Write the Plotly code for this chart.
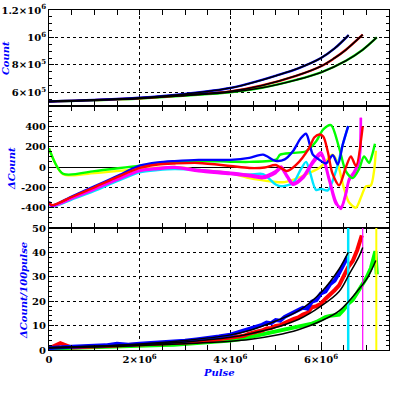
import plotly.graph_objects as go
from plotly.subplots import make_subplots

# ---------------- Panel 1: Count vs Pulse ----------------
cnt_blue_x = [0, 1e6, 2e6, 3e6, 4e6, 4.7e6, 5e6, 5.5e6, 6e6, 6.3e6, 6.61e6]
cnt_blue_y = [5.33e5, 5.44e5, 5.6e5, 5.88e5, 6.31e5, 6.9e5, 7.2e5, 7.75e5, 8.5e5, 9.2e5, 1.017e6]
cnt_red_x = [0, 1e6, 2e6, 3e6, 4e6, 4.7e6, 5.45e6, 6e6, 6.3e6, 6.55e6, 6.92e6]
cnt_red_y = [5.33e5, 5.43e5, 5.57e5, 5.8e5, 6.07e5, 6.5e5, 7.2e5, 7.9e5, 8.5e5, 9.1e5, 1.02e6]
cnt_green_x = [0, 1e6, 2e6, 3e6, 4e6, 4.7e6, 5.45e6, 6e6, 6.55e6, 6.92e6, 7.23e6]
cnt_green_y = [5.33e5, 5.42e5, 5.55e5, 5.76e5, 6.0e5, 6.33e5, 6.9e5, 7.45e5, 8.3e5, 9.1e5, 1.0e6]

# ---------------- Panel 2: dCount vs Pulse ----------------
d_blue_x = [0, 0.06e6, 0.5e6, 1e6, 1.5e6, 2e6, 2.4e6, 2.77e6, 3.3e6, 4e6, 4.42e6, 4.72e6, 5.0e6, 5.2e6,
            5.38e6, 5.55e6, 5.67e6, 5.82e6, 5.96e6, 6.11e6, 6.26e6, 6.37e6, 6.48e6, 6.6e6]
d_blue_y = [-340, -378, -290, -190, -90, 13, 45, 58, 70, 70, 90, 122, 60, 75,
            155, 280, 327, 122, 72, 35, 115, 25, 221, 402]
d_red_x = [0, 0.06e6, 0.5e6, 1e6, 1.5e6, 2e6, 2.4e6, 2.77e6, 3.3e6, 4e6, 4.42e6, 4.76e6, 5.0e6, 5.25e6,
           5.45e6, 5.74e6, 5.85e6, 5.96e6, 6.05e6, 6.15e6, 6.25e6, 6.4e6, 6.55e6, 6.66e6, 6.77e6, 6.92e6]
d_red_y = [-345, -375, -295, -200, -100, -8, 25, 35, 40, 10, -10, -5, 20, -40,
           20, 188, 290, 320, 300, 150, -60, -180, 0, 105, 10, 400]
d_mag_x = [0, 0.06e6, 0.5e6, 1e6, 1.5e6, 2e6, 2.4e6, 2.77e6, 3.3e6, 4e6, 4.42e6, 4.72e6, 5.0e6, 5.12e6,
           5.25e6, 5.38e6, 5.6e6, 5.82e6, 6.0e6, 6.18e6, 6.33e6, 6.44e6, 6.55e6, 6.62e6, 6.73e6, 6.84e6, 6.88e6]
d_mag_y = [-350, -382, -305, -215, -120, -33, -10, 0, -30, -55, -76, -93, -40, 5,
           -80, -158, -93, 60, 145, -109, -340, -413, -270, -135, -66, 50, 485]
d_mag2_y = [-355, -387, -312, -222, -128, -40, -20, -8, -42, -70, -92, -110, -60, -15,
            -100, -175, -112, 35, 118, -135, -365, -395, -250, -115, -45, 70, 485]
d_cyan_x = [0, 0.06e6, 0.5e6, 1e6, 1.5e6, 2e6, 2.4e6, 2.77e6, 3.3e6, 4e6, 4.42e6, 4.72e6, 5.01e6, 5.12e6,
            5.38e6, 5.55e6, 5.67e6, 5.75e6, 5.89e6, 6.0e6, 6.15e6, 6.33e6, 6.48e6, 6.6e6]
d_cyan_y = [-360, -392, -320, -235, -140, -53, -30, -20, -30, -60, -76, -70, -175, -190,
            -158, -27, 50, -40, -225, -215, -230, -37, 221, 402]
d_green_x = [0, 0.31e6, 1e6, 2e6, 2.77e6, 3.32e6, 4e6, 4.42e6, 5.01e6, 5.1e6, 5.38e6, 5.67e6, 5.89e6,
             6.05e6, 6.22e6, 6.4e6, 6.55e6, 6.7e6, 6.84e6, 6.95e6, 7.06e6, 7.13e6, 7.19e6]
d_green_y = [184, -66, -40, 13, 45, 59, 52, 50, 72, 122, 139, 155, 250,
             370, 412, 188, -43, -109, -20, 105, 40, 122, 228]
d_yellow_x = [0, 0.31e6, 1e6, 2e6, 2.77e6, 3.32e6, 4e6, 4.42e6, 4.93e6, 5.15e6, 5.38e6, 5.74e6, 5.96e6,
              6.1e6, 6.25e6, 6.35e6, 6.5e6, 6.62e6, 6.77e6, 6.88e6, 6.99e6, 7.1e6, 7.17e6, 7.21e6]
d_yellow_y = [184, -70, -60, -20, 0, -30, -60, -109, -143, -150, -126, -59, -10,
              50, 120, 60, -200, -350, -400, -300, -190, -180, -40, 160]

# ---------------- Panel 3: dCount/100pulse vs Pulse ----------------
r_x_early = [0, 0.25e6, 0.5e6, 0.75e6, 1e6, 1.25e6, 1.5e6, 1.75e6, 2e6, 2.25e6, 2.5e6, 2.75e6,
             3e6, 3.25e6, 3.5e6, 3.75e6, 4e6]
r_blue_x = r_x_early + [4.2e6, 4.3e6, 4.4e6, 4.5e6, 4.6e6, 4.7e6, 4.8e6, 4.9e6, 5.0e6, 5.1e6, 5.2e6,
                        5.3e6, 5.4e6, 5.5e6, 5.6e6, 5.7e6, 5.8e6, 5.9e6, 6.0e6, 6.1e6, 6.2e6, 6.3e6,
                        6.4e6, 6.5e6, 6.58e6]
r_blue_y = [0.8, 1.2, 1.3, 1.5, 1.6, 1.9, 2.6, 2.2, 2.6, 2.8, 3.1, 3.4, 3.8, 4.3, 4.8, 5.5, 6.3,
            7.4, 7.9, 8.6, 9.0, 9.9, 10.3, 11.2, 11.0, 12.3, 12.0, 13.6, 14.4, 15.2, 16.4, 17.3,
            17.0, 19.8, 20.5, 23.2, 24.0, 27.0, 28.4, 31.5, 34.8, 38.0, 43.5]
r_red_x = r_x_early + [4.2e6, 4.3e6, 4.4e6, 4.5e6, 4.6e6, 4.7e6, 4.8e6, 4.9e6, 5.0e6, 5.1e6, 5.2e6,
                       5.3e6, 5.4e6, 5.5e6, 5.6e6, 5.7e6, 5.8e6, 5.9e6, 6.0e6, 6.1e6, 6.2e6, 6.3e6,
                       6.4e6, 6.5e6, 6.6e6, 6.7e6, 6.8e6, 6.9e6]
r_red_y = [0.6, 2.8, 1.0, 1.2, 1.3, 1.5, 1.6, 1.8, 2.0, 2.2, 2.4, 2.7, 3.0, 3.3, 3.8, 4.3, 4.9,
           5.6, 5.8, 6.6, 6.9, 7.6, 8.0, 8.8, 9.0, 9.9, 10.2, 11.1, 11.8, 12.8, 13.3, 14.5, 15.2,
           17.5, 18.0, 19.0, 21.0, 22.5, 24.5, 26.5, 30.5, 34.0, 36.5, 41.0, 47.0]
r_green_x = r_x_early + [4.2e6, 4.3e6, 4.4e6, 4.5e6, 4.6e6, 4.7e6, 4.8e6, 4.9e6, 5.0e6, 5.1e6, 5.2e6,
                         5.3e6, 5.4e6, 5.5e6, 5.6e6, 5.7e6, 5.8e6, 5.9e6, 6.0e6, 6.1e6, 6.2e6, 6.3e6,
                         6.4e6, 6.5e6, 6.6e6, 6.7e6, 6.8e6, 6.9e6, 7.0e6, 7.1e6, 7.15e6, 7.2e6, 7.23e6]
r_green_y = [0.3, 0.8, 0.9, 1.0, 1.1, 1.2, 1.3, 1.4, 1.7, 1.8, 2.0, 2.2, 2.5, 2.8, 3.1, 3.5, 3.9,
             4.4, 4.8, 5.3, 5.5, 6.0, 6.2, 6.8, 7.0, 7.3, 7.8, 8.1, 8.6, 9.0, 9.3, 9.8, 10.3,
             10.8, 11.5, 12.5, 13.5, 14.0, 14.2, 14.5, 16.5, 19.0, 20.5, 23.5, 26.0, 29.5, 33.5,
             37.0, 40.5, 31.0]
fit_blue_x = [0, 1e6, 2e6, 3e6, 4e6, 4.42e6, 5e6, 5.5e6, 6e6, 6.4e6, 6.6e6]
fit_blue_y = [1.0, 1.6, 2.5, 3.9, 6.2, 8.0, 11.9, 16.0, 23.6, 33.2, 40.0]
fit_red_x = [0, 1e6, 2e6, 3e6, 4e6, 4.42e6, 5e6, 5.5e6, 6e6, 6.4e6, 6.62e6, 6.84e6, 6.92e6]
fit_red_y = [0.9, 1.4, 2.2, 3.3, 5.2, 6.6, 9.2, 12.5, 18.0, 24.0, 31.0, 38.4, 42.0]
fit_green_x = [0, 1e6, 2e6, 3e6, 4e6, 4.42e6, 5e6, 5.5e6, 6e6, 6.4e6, 6.84e6, 7.03e6, 7.21e6]
fit_green_y = [0.8, 1.2, 1.8, 2.6, 3.6, 4.3, 6.0, 8.3, 11.9, 16.0, 25.0, 29.8, 36.7]

end_pulse = [6.6e6, 6.92e6, 7.22e6]
end_colors = ["#00e5ff", "#ff00ff", "#ffff00"]
end_widths = [2.5, 1.2, 2.0]

# ---------------- axis labels ----------------
x_tickvals = [0, 2e6, 4e6, 6e6]
x_ticktext = ["0", "2×10<sup>6</sup>", "4×10<sup>6</sup>", "6×10<sup>6</sup>"]
y1_tickvals = [6e5, 8e5, 1e6, 1.2e6]
y1_ticktext = ["6×10<sup>5</sup>", "8×10<sup>5</sup>", "10<sup>6</sup>", "1.2×10<sup>6</sup>"]
y2_tickvals = [-400, -200, 0, 200, 400]
y2_ticktext = ["-400", "-200", "0", "200", "400"]
y3_tickvals = [0, 10, 20, 30, 40, 50]
y3_ticktext = ["0", "10", "20", "30", "40", "50"]

BLUE = "#0000ff"
CYAN = "#00e5ff"
RED = "#ff0000"
MAG = "#ff00ff"
GREEN = "#00ff00"
YEL = "#ffff00"

fig = make_subplots(rows=3, cols=1, shared_xaxes=True, vertical_spacing=0,
                    row_heights=[96, 122, 122])

# panel 1
for xs, ys, c in [(cnt_green_x, cnt_green_y, GREEN), (cnt_red_x, cnt_red_y, RED),
                  (cnt_blue_x, cnt_blue_y, BLUE)]:
    fig.add_trace(go.Scatter(x=xs, y=ys, mode="lines", line=dict(color=c, width=2.4, shape="spline"),
                             showlegend=False), row=1, col=1)
for xs, ys in [(cnt_green_x, cnt_green_y), (cnt_red_x, cnt_red_y), (cnt_blue_x, cnt_blue_y)]:
    fig.add_trace(go.Scatter(x=xs, y=ys, mode="lines", line=dict(color="black", width=1.6, shape="spline"),
                             showlegend=False), row=1, col=1)

# panel 2
for xs, ys, c in [(d_yellow_x, d_yellow_y, YEL), (d_cyan_x, d_cyan_y, CYAN),
                  (d_mag_x, d_mag_y, MAG), (d_mag_x, d_mag2_y, MAG),
                  (d_green_x, d_green_y, GREEN), (d_blue_x, d_blue_y, BLUE),
                  (d_red_x, d_red_y, RED)]:
    fig.add_trace(go.Scatter(x=xs, y=ys, mode="lines",
                             line=dict(color=c, width=2.4, shape="spline", smoothing=0.8),
                             showlegend=False), row=2, col=1)

# panel 3
for xs, ys, c in [(r_green_x, r_green_y, GREEN), (r_red_x, r_red_y, RED), (r_blue_x, r_blue_y, BLUE)]:
    fig.add_trace(go.Scatter(x=xs, y=ys, mode="lines", line=dict(color=c, width=4),
                             showlegend=False), row=3, col=1)
for p, c, w in zip(end_pulse, end_colors, end_widths):
    fig.add_trace(go.Scatter(x=[p, p], y=[0, 50], mode="lines", line=dict(color=c, width=w),
                             showlegend=False), row=3, col=1)
for xs, ys in [(fit_green_x, fit_green_y), (fit_red_x, fit_red_y), (fit_blue_x, fit_blue_y)]:
    fig.add_trace(go.Scatter(x=xs, y=ys, mode="lines", line=dict(color="black", width=1.5, shape="spline"),
                             showlegend=False), row=3, col=1)

tickfont = dict(family="DejaVu Serif", size=10, color="black", weight="bold")
common = dict(showline=True, linecolor="black", linewidth=1, mirror="ticks",
              ticks="inside", ticklen=5, tickcolor="black", tickwidth=1,
              showgrid=True, gridcolor="black", griddash="dot", gridwidth=1,
              tickfont=tickfont, zeroline=False, automargin=False)

for r in (1, 2, 3):
    fig.update_xaxes(range=[0, 7.5e6], tickmode="array", tickvals=x_tickvals, ticktext=x_ticktext,
                     showticklabels=(r == 3),
                     minor=dict(tickmode="linear", tick0=0, dtick=5e5, ticks="inside", ticklen=5,
                                tickcolor="black", showgrid=False),
                     **common, row=r, col=1)

fig.update_yaxes(range=[5e5, 1.2e6], tickmode="array", tickvals=y1_tickvals, ticktext=y1_ticktext,
                 minor=dict(tickmode="linear", tick0=0, dtick=5e4, ticks="inside", ticklen=3,
                            tickcolor="black", showgrid=False),
                 **common, row=1, col=1)
c2 = dict(common)
c2["zeroline"] = True
fig.update_yaxes(range=[-600, 600], tickmode="array", tickvals=y2_tickvals, ticktext=y2_ticktext,
                 zerolinecolor="black", zerolinewidth=1.3,
                 minor=dict(tickmode="linear", tick0=0, dtick=50, ticks="inside", ticklen=3,
                            tickcolor="black", showgrid=False),
                 **c2, row=2, col=1)
fig.update_yaxes(range=[0, 50], tickmode="array", tickvals=y3_tickvals, ticktext=y3_ticktext,
                 minor=dict(tickmode="linear", tick0=0, dtick=2, ticks="inside", ticklen=3,
                            tickcolor="black", showgrid=False),
                 **common, row=3, col=1)

titlefont = dict(family="DejaVu Serif", size=10, color=BLUE, weight="bold", style="italic")
anns = [
    dict(text="Count", x=-0.126, y=0.859, textangle=-90),
    dict(text="ΔCount", x=-0.112, y=0.535, textangle=-90),
    dict(text="ΔCount/100pulse", x=-0.077, y=0.176, textangle=-90),
    dict(text="Pulse", x=0.5, y=-0.065, textangle=0),
]
for a in anns:
    fig.add_annotation(xref="paper", yref="paper", showarrow=False, font=titlefont,
                       xanchor="center", yanchor="middle", **a)

fig.update_layout(width=399, height=399, margin=dict(l=49, r=10, t=10, b=49),
                  paper_bgcolor="white", plot_bgcolor="white", showlegend=False)

fig.write_html("out.html", config={"displayModeBar": False},
               post_script="document.body.style.margin='0px';document.body.style.overflow='hidden';")
